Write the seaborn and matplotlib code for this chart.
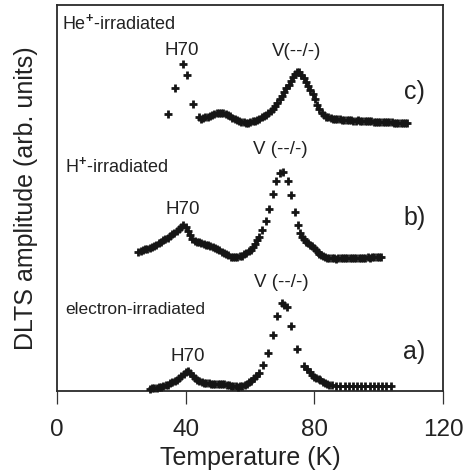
import matplotlib
matplotlib.use("Agg")
import matplotlib.pyplot as plt
import seaborn as sns
import pandas as pd

# DLTS spectra (temperature in K, amplitude in arbitrary units)
temp_he = [34.6, 36.7, 39.1, 40.4, 42.2, 44.0,
           44.7, 45.4, 46.1, 46.8, 47.5, 48.2, 48.9, 49.6, 50.3, 51.0, 51.7, 52.4, 53.1,
           53.8, 54.5, 55.2, 55.9, 56.6, 57.3, 58.0, 58.7, 59.4, 60.1, 60.8, 61.5, 62.2,
           62.9, 63.6, 64.3, 65.0, 65.7, 66.4, 67.1, 67.8, 68.5, 69.2, 69.9, 70.6, 71.3,
           72.0, 72.7, 73.4, 74.1, 74.7, 75.3, 76.0, 76.7, 77.4, 78.1, 78.8, 79.5, 80.2,
           80.9, 81.6, 82.3, 83.0, 83.7, 84.4, 85.1, 85.8, 86.5, 87.2, 87.9, 88.6, 89.3,
           90.0, 90.7, 91.4, 92.1, 92.8, 93.5, 94.2, 94.9, 95.6, 96.3, 97.0, 97.7, 98.4,
           99.1, 99.8, 100.5, 101.2, 101.9, 102.6, 103.3, 104.0, 104.7, 105.4, 106.1,
           106.8, 107.5, 108.2, 108.9]
amp_he = [276.7, 302.7, 327.0, 316.0, 286.7, 273.7,
          272.5, 273.0, 273.8, 274.5, 275.5, 276.2, 277.0, 277.6, 278.0, 278.2, 277.6, 276.8, 275.8,
          274.6, 273.4, 272.2, 271.0, 270.0, 269.2, 268.6, 268.3, 268.5, 268.9, 269.6, 270.4, 271.3,
          272.4, 273.6, 275.0, 276.4, 277.8, 279.6, 282.0, 285.0, 288.5, 292.0, 295.5, 299.2, 302.8,
          306.5, 310.3, 314.0, 317.3, 319.3, 318.8, 316.2, 313.0, 309.5, 305.5, 301.5, 297.5, 292.0,
          286.5, 282.0, 278.5, 276.0, 274.5, 273.6, 273.0, 272.4, 272.0, 271.9, 271.6, 271.3, 271.4,
          271.0, 270.8, 270.9, 270.5, 270.4, 270.6, 270.2, 270.0, 270.1, 269.8, 269.7, 269.9, 269.5,
          269.3, 269.4, 269.1, 269.0, 269.2, 268.8, 268.7, 268.8, 268.5, 268.3, 268.4,
          268.1, 268.0, 268.1, 267.8]

temp_h = [25.3, 26.0, 26.7, 27.4, 28.1, 28.8, 29.5, 30.2, 30.9, 31.6, 32.3, 33.0, 33.7,
          34.4, 35.1, 35.8, 36.5, 37.2, 37.9, 38.6, 39.3, 40.0, 40.7, 41.4, 42.1, 42.8,
          43.5, 44.2, 44.9, 45.6, 46.3, 47.0, 47.7, 48.4, 49.1, 49.8, 50.5, 51.2, 51.9,
          52.6, 53.3, 54.0, 54.7, 55.4, 56.1, 56.8, 57.5, 58.2, 58.9, 59.6, 60.3, 61.0,
          61.7, 62.3, 62.9, 63.7, 65.0, 66.0, 67.0, 68.2, 69.2, 70.4, 71.7, 72.8, 74.0,
          74.9, 75.6, 76.2, 76.7, 77.4, 78.0, 78.6, 79.2, 79.8, 80.4, 81.0, 81.6, 82.2,
          82.8, 83.4, 84.0, 84.7, 85.4, 86.1, 86.8, 87.5, 88.2, 88.9, 89.6, 90.3, 91.0,
          91.7, 92.4, 93.1, 93.8, 94.5, 95.2, 95.9, 96.6, 97.3, 98.0, 98.7, 99.4, 100.1,
          100.6]
amp_h = [139.5, 140.3, 141.0, 141.8, 142.5, 143.5, 144.3, 145.3, 146.5, 147.8, 149.3, 150.8, 152.0,
         153.5, 155.0, 156.8, 158.5, 160.5, 162.5, 164.5, 166.5, 164.0, 160.0, 156.0, 152.5, 150.5,
         149.5, 148.7, 148.0, 147.3, 146.5, 145.7, 145.0, 144.0, 143.0, 142.0, 140.8, 139.5, 138.3,
         137.0, 135.8, 134.5, 134.0, 133.8, 134.0, 134.6, 135.5, 136.6, 138.0, 139.6, 141.5, 144.0,
         147.5, 151.0, 154.0, 161.0, 170.3, 181.7, 197.0, 210.3, 218.3, 219.3, 210.3, 196.0, 178.7,
         166.0, 157.7, 154.5, 151.7, 149.5, 148.0, 146.5, 144.8, 143.0, 141.0, 139.0, 137.3, 135.8,
         134.6, 133.6, 133.0, 132.8, 132.6, 132.7, 132.5, 132.6, 132.8, 132.7, 132.9, 133.0, 132.9,
         133.1, 133.2, 133.1, 133.3, 133.4, 133.3, 133.5, 133.6, 133.5, 133.7, 133.8, 133.7, 133.9,
         133.8]

temp_e = [28.9, 29.6, 30.3, 31.0, 31.7, 32.4, 33.1, 33.8, 34.5, 35.2, 35.9, 36.6, 37.3,
          38.0, 38.7, 39.4, 40.1, 40.8, 41.5, 42.2, 42.9, 43.6, 44.3, 45.0, 45.7, 46.4,
          47.1, 47.8, 48.5, 49.2, 49.9, 50.6, 51.3, 52.0, 52.7, 53.4, 54.1, 54.8, 55.5,
          56.2, 56.9, 57.6, 58.3, 59.0, 59.7, 60.4, 61.1, 61.9, 62.7, 63.9, 65.6, 67.0,
          68.4, 69.9, 70.7, 71.5, 72.9, 74.6, 76.7, 77.6, 78.5, 79.2, 79.9, 80.6, 81.3,
          81.9, 82.6, 83.3, 84.0, 84.7, 85.5, 86.8, 88.1, 89.4, 90.7, 92.0, 93.3, 94.6,
          95.9, 97.2, 98.5, 99.8, 101.1, 102.4, 103.7]
amp_e = [2.5, 2.8, 3.0, 3.3, 3.6, 4.0, 4.8, 5.6, 6.5, 7.6, 8.8, 10.0, 11.5,
         13.0, 15.0, 17.0, 18.8, 19.8, 18.0, 15.0, 12.8, 11.0, 9.8, 9.0, 8.4, 8.0,
         7.7, 7.5, 7.4, 7.3, 7.2, 7.1, 6.9, 6.6, 6.2, 5.8, 5.4, 5.0, 4.7,
         4.5, 4.6, 5.0, 5.8, 7.0, 8.6, 10.5, 12.8, 15.0, 17.7, 26.0, 38.3, 56.0,
         75.3, 87.7, 86.0, 83.7, 65.3, 42.0, 25.3, 22.0, 19.3, 16.5, 14.5, 13.0, 11.8,
         11.0, 9.5, 8.0, 7.0, 6.2, 5.8, 5.5, 5.3, 5.2, 5.1, 5.1, 5.0, 5.0,
         5.0, 4.9, 4.9, 4.9, 4.8, 4.8, 4.8]

x_ticks = [0, 40, 80, 120]

sns.set_theme(style="ticks")
plt.rcParams["font.family"] = ["Liberation Sans", "DejaVu Sans"]
plt.rcParams["mathtext.fontset"] = "custom"
plt.rcParams["mathtext.rm"] = "Liberation Sans"
plt.rcParams["mathtext.bf"] = "Liberation Sans:bold"
plt.rcParams["mathtext.it"] = "Liberation Sans:italic"

ink = "#151515"
txt = "#222222"

fig = plt.figure(figsize=(4.69, 4.70), dpi=100)
ax = fig.add_axes([57 / 469, 79 / 470, 386 / 469, 386 / 470])

for t, a in [(temp_he, amp_he), (temp_h, amp_h), (temp_e, amp_e)]:
    df = pd.DataFrame({"T": t, "A": a})
    sns.scatterplot(data=df, x="T", y="A", marker="+", s=30, linewidth=2.0,
                    color=ink, ax=ax, zorder=3, clip_on=False)

ax.set_xlim(0, 120)
ax.set_ylim(0, 386)
ax.set_xticks(x_ticks)
ax.set_xticklabels([str(v) for v in x_ticks])
ax.set_yticks([])
ax.tick_params(axis="x", direction="out", length=9, width=0.9, pad=11,
               labelsize=17.5, colors="#333333", labelcolor=txt)
for side in ["left", "right", "top", "bottom"]:
    ax.spines[side].set_visible(True)
    ax.spines[side].set_linewidth(1.3)
    ax.spines[side].set_color("#2a2a2a")

ax.set_xlabel("Temperature (K)", fontsize=18, color=txt, labelpad=4)
ax.set_ylabel("DLTS amplitude (arb. units)", fontsize=18, color=txt, labelpad=14)

# curve labels
ax.text(0.013, 362, r"He$^{\mathbf{+}}$-irradiated", transform=ax.get_yaxis_transform(),
        fontsize=13, color=txt, va="baseline", ha="left")
ax.text(0.021, 219, r"H$^{\mathbf{+}}$-irradiated", transform=ax.get_yaxis_transform(),
        fontsize=13, color=txt, va="baseline", ha="left")
ax.text(0.021, 77, "electron-irradiated", transform=ax.get_yaxis_transform(),
        fontsize=12.5, color=txt, va="baseline", ha="left")

# peak labels
ax.text(38.8, 336, "H70", fontsize=13.5, color=txt, ha="center", va="baseline")
ax.text(74.6, 335, "V(--/-)", fontsize=13.5, color=txt, ha="center", va="baseline")
ax.text(39.1, 177, "H70", fontsize=13.5, color=txt, ha="center", va="baseline")
ax.text(69.4, 237, "V (--/-)", fontsize=13.5, color=txt, ha="center", va="baseline")
ax.text(40.6, 30, "H70", fontsize=13.5, color=txt, ha="center", va="baseline")
ax.text(69.7, 104, "V (--/-)", fontsize=13.5, color=txt, ha="center", va="baseline")

# panel letters
ax.text(111.1, 292.5, "c)", fontsize=18, color=txt, ha="center", va="baseline")
ax.text(111.1, 166, "b)", fontsize=18, color=txt, ha="center", va="baseline")
ax.text(111.1, 31.5, "a)", fontsize=18, color=txt, ha="center", va="baseline")

fig.savefig("out.png", dpi=100)
